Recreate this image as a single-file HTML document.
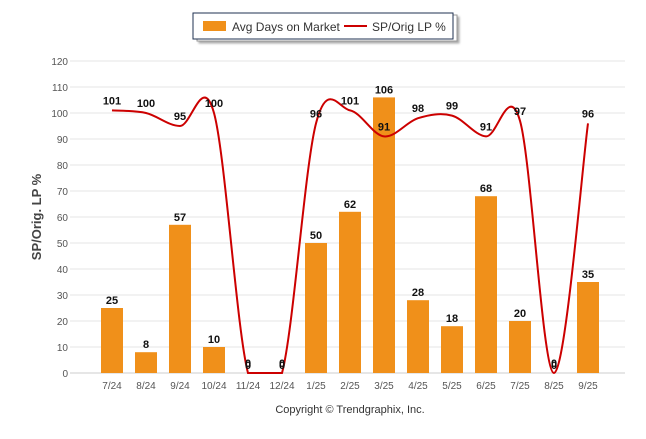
<!DOCTYPE html>
<html><head><meta charset="utf-8"><style>
body{margin:0;background:#fff;font-family:"Liberation Sans",sans-serif}
svg text{font-family:"Liberation Sans",sans-serif}
</style></head><body>
<svg width="646" height="434">
<g>
<rect x="197" y="15" width="260" height="26" fill="#fff" stroke="#999" stroke-width="1" style="filter:drop-shadow(2px 2px 1px #aaa)"/>
<rect x="193" y="13" width="260" height="26" fill="#fff" stroke="#1f3050" stroke-width="1"/>
<rect x="203" y="21" width="23" height="10" fill="#f0901a"/>
<text x="232" y="31" font-size="12" fill="#333">Avg Days on Market</text>
<line x1="344" y1="26" x2="367" y2="26" stroke="#cc0000" stroke-width="2"/>
<text x="372" y="31" font-size="12" fill="#333">SP/Orig LP %</text>
</g>
<g id="grid"></g><g id="bars"></g><g id="line"></g><g id="labels"></g>
<text transform="translate(41,217) rotate(-90)" text-anchor="middle" font-size="13" font-weight="bold" fill="#444">SP/Orig. LP %</text>
<text x="350" y="413" text-anchor="middle" font-size="11" fill="#333">Copyright © Trendgraphix, Inc.</text>
</svg>
<script>
const categories=["7/24","8/24","9/24","10/24","11/24","12/24","1/25","2/25","3/25","4/25","5/25","6/25","7/25","8/25","9/25"];
const daysOnMarket=[25,8,57,10,0,0,50,62,106,28,18,68,20,0,35];
const spOrigLP=[101,100,95,100,0,0,96,101,91,98,99,91,97,0,96];
const yTicks=[0,10,20,30,40,50,60,70,80,90,100,110,120];
const NS="http://www.w3.org/2000/svg";
const x=i=>112+i*34, y=v=>373-v*2.6;
function mk(p,t,a){const e=document.createElementNS(NS,t);for(const k in a)e.setAttribute(k,a[k]);document.getElementById(p).appendChild(e);return e;}
yTicks.forEach(t=>{
 const l=mk('grid','line',{x1:70,x2:625,y1:y(t),y2:y(t),stroke:t?'#e6e6e6':'#ccc'});
 
 
 const tx=mk('grid','text',{x:68,y:y(t)+4,'text-anchor':'end','font-size':'10',fill:'#555'});tx.textContent=t;
 
 
});
categories.forEach((c,i)=>{
 const tx=mk('grid','text',{x:x(i),y:389,'text-anchor':'middle','font-size':'10',fill:'#555'});tx.textContent=c;
 
 
 const v=daysOnMarket[i];
 if(v>0){const b=mk('bars','rect',{x:x(i)-11,y:y(v),width:22,height:373-y(v),fill:'#f0901a'});
 
 }
 const bl=mk('labels','text',{x:x(i),y:y(v)-4,'text-anchor':'middle','font-size':'11','font-weight':'bold',fill:'#111'});bl.textContent=v;
 
 
 const ll=mk('labels','text',{x:x(i),y:y(spOrigLP[i])-6,'text-anchor':'middle','font-size':'11','font-weight':'bold',fill:'#111'});ll.textContent=spOrigLP[i];
 
 
});
const P=spOrigLP.map((v,i)=>[x(i),y(v)]);
const cl=v=>Math.min(v,y(0));
let d='M'+P[0][0]+','+P[0][1];
for(let i=0;i<P.length-1;i++){
 const p0=P[Math.max(i-1,0)],p1=P[i],p2=P[i+1],p3=P[Math.min(i+2,P.length-1)];
 const c1=[p1[0]+(p2[0]-p0[0])/6,cl(p1[1]+(p2[1]-p0[1])/6)],c2=[p2[0]-(p3[0]-p1[0])/6,cl(p2[1]-(p3[1]-p1[1])/6)];
 d+=` C${c1[0]},${c1[1]} ${c2[0]},${c2[1]} ${p2[0]},${p2[1]}`;
}
const ln=mk('line','path',{d:d,fill:'none',stroke:'#cc0000','stroke-width':2});


</script>
</body></html>
